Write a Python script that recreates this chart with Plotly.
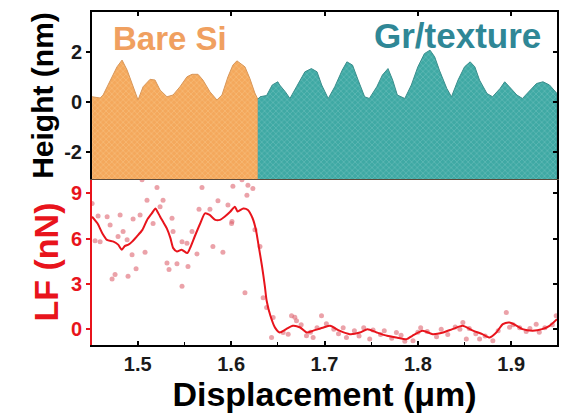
import plotly.graph_objects as go

# ---------------- data ----------------
si_x = [1.4511, 1.4597, 1.4629, 1.4704, 1.4778, 1.4832, 1.4886, 1.4939, 1.5003, 1.5057,
        1.5132, 1.5185, 1.5239, 1.5313, 1.5378, 1.5452, 1.5527, 1.5581, 1.5645, 1.5698,
        1.5773, 1.5848, 1.5902, 1.5966, 1.6019, 1.6062, 1.6148, 1.6201, 1.6254, 1.6286]
si_h = [0.20, 0.15, 0.27, 0.87, 1.40, 1.67, 1.27, 0.73, 0.07, 0.60,
        0.90, 0.87, 0.47, 0.20, 0.27, 0.60, 1.00, 1.10, 1.10, 0.87,
        0.40, 0.07, 0.27, 1.00, 1.47, 1.64, 1.40, 0.93, 0.35, 0.10]

gr_x = [1.6286, 1.631, 1.638, 1.644, 1.650, 1.652, 1.658, 1.663, 1.670, 1.679,
        1.686, 1.692, 1.697, 1.704, 1.711, 1.719, 1.724, 1.730, 1.736, 1.743,
        1.748, 1.756, 1.762, 1.768, 1.773, 1.778, 1.786, 1.793, 1.800, 1.807,
        1.813, 1.818, 1.823, 1.831, 1.836, 1.843, 1.850, 1.856, 1.861, 1.866,
        1.874, 1.880, 1.888, 1.893, 1.898, 1.906, 1.912, 1.920, 1.927, 1.934,
        1.941, 1.949]
gr_h = [0.10, 0.20, 0.25, 0.67, 0.80, 0.67, 0.40, 0.13, 0.60, 1.20,
        1.33, 1.20, 0.67, 0.13, 0.60, 1.27, 1.60, 1.47, 0.87, 0.20,
        0.13, 0.60, 1.07, 1.33, 0.87, 0.27, 0.13, 0.67, 1.40, 1.93,
        2.07, 1.80, 1.27, 0.53, 0.20, 0.87, 1.40, 1.60, 1.40, 0.87,
        0.33, 0.20, 0.53, 0.80, 0.60, 0.27, 0.13, 0.47, 0.73, 0.80,
        0.67, 0.33]

lf_fit_x = [1.451, 1.457, 1.462, 1.467, 1.474, 1.479, 1.483, 1.486, 1.490, 1.494,
            1.499, 1.505, 1.510, 1.515, 1.519, 1.521, 1.524, 1.527, 1.531, 1.535,
            1.538, 1.542, 1.547, 1.553, 1.556, 1.561, 1.567, 1.572, 1.577, 1.583,
            1.588, 1.593, 1.599, 1.604, 1.607, 1.613, 1.618, 1.623, 1.6265, 1.629,
            1.633, 1.636, 1.638, 1.642, 1.647, 1.652, 1.659, 1.666, 1.674, 1.681,
            1.688, 1.699, 1.706, 1.716, 1.727, 1.738, 1.746, 1.756, 1.767, 1.777,
            1.788, 1.794, 1.805, 1.816, 1.827, 1.837, 1.848, 1.859, 1.869, 1.877,
            1.884, 1.891, 1.898, 1.906, 1.912, 1.923, 1.933, 1.941, 1.949]
lf_fit_y = [7.45, 7.00, 6.36, 5.92, 5.80, 5.60, 5.26, 5.50, 5.60, 5.80,
            6.14, 6.58, 7.24, 7.67, 8.00, 7.80, 7.45, 7.13, 6.69, 6.03,
            5.37, 5.15, 5.26, 5.04, 5.37, 6.14, 7.02, 7.67, 7.57, 7.24,
            7.24, 7.45, 7.78, 8.11, 7.80, 8.00, 7.90, 7.35, 6.60, 5.70,
            4.20, 2.90, 1.90, 0.90, 0.10, -0.22, 0.00, 0.22, 0.11, -0.22,
            -0.10, 0.11, 0.22, -0.10, -0.33, -0.22, 0.00, -0.22, -0.44, -0.55,
            -0.66, -0.44, -0.10, -0.33, -0.22, 0.00, 0.22, -0.10, -0.33, -0.55,
            -0.22, 0.33, 0.44, 0.22, 0.00, -0.10, 0.00, 0.22, 0.66]

lf_raw_x = [1.5206, 1.5688, 1.6019, 1.6180, 1.6233, 1.6169, 1.4511, 1.5099, 1.5271, 1.5859,
            1.5966, 1.4575, 1.4672, 1.4811, 1.4950, 1.5025, 1.5239, 1.5164, 1.5367, 1.5656,
            1.5773, 1.6009, 1.4704, 1.4843, 1.4789, 1.4543, 1.4597, 1.5378, 1.5474, 1.5527,
            1.5581, 1.5805, 1.4886, 1.5078, 1.4939, 1.5634, 1.5912, 1.5313, 1.5420, 1.5335,
            1.5538, 1.4982, 1.4757, 1.4725, 1.4896, 1.5474, 1.6148, 1.6005, 1.6255, 1.6309,
            1.6343, 1.6380, 1.6450, 1.6433, 1.5046, 1.6116,
            1.6557, 1.6611, 1.6647, 1.6682, 1.6700, 1.6968, 1.6807, 1.6878, 1.7235, 1.7484,
            1.7770, 1.7948, 1.8482, 1.8519, 1.8661, 1.8803, 1.8947, 1.8982, 1.9267, 1.9481,
            1.675, 1.685, 1.692, 1.702, 1.710, 1.715, 1.720, 1.732, 1.737, 1.742,
            1.752, 1.760, 1.764, 1.772, 1.782, 1.786, 1.800, 1.803, 1.810, 1.820,
            1.825, 1.832, 1.840, 1.845, 1.855, 1.862, 1.872, 1.886, 1.902, 1.909,
            1.916, 1.920, 1.930, 1.936, 1.944]
lf_raw_y = [9.39, 9.39, 9.47, 9.54, 9.32, 8.88, 8.33, 8.55, 8.55, 8.51,
            8.22, 7.50, 7.45, 7.57, 7.30, 7.57, 8.11, 7.00, 7.35, 7.94,
            7.94, 7.13, 6.90, 6.47, 6.14, 5.86, 5.80, 6.47, 5.80, 5.70,
            6.47, 5.48, 5.92, 5.09, 4.93, 4.98, 5.09, 4.38, 4.34, 3.95,
            4.16, 4.01, 3.62, 3.33, 3.50, 2.85, 2.41, 7.00, 6.58, 5.48,
            2.08, 1.43, 0.77, -0.55, 9.90, 9.90,
            -0.22, -0.33, 0.88, 0.79, 0.55, 0.88, -0.44, -0.55, -0.55, -0.66,
            -0.22, -0.77, 0.44, -0.66, -0.66, -0.77, 1.10, 0.13, 0.33, 0.88,
            0.30, -0.20, 0.10, 0.35, 0.00, -0.30, 0.10, -0.10, -0.45, 0.10,
            -0.05, -0.35, -0.10, -0.60, -0.40, -0.80, -0.20, 0.10, -0.15, -0.50,
            0.00, -0.35, 0.15, 0.00, 0.05, -0.30, -0.45, -0.10, 0.30, 0.10,
            -0.15, 0.05, -0.20, 0.10, 0.30]

x_ticks = [1.5, 1.6, 1.7, 1.8, 1.9]
h_ticks = [-2, 0, 2]
lf_ticks = [0, 3, 6, 9]

# ---------------- figure ----------------
X_RANGE = [1.451, 1.949]
H_RANGE = [-3.1, 3.6]
LF_RANGE = [-1.05, 9.95]
H_BASE = H_RANGE[0] - 1
FONT = "Liberation Sans, Arial, sans-serif"

fig = go.Figure()

orange = "#F4A85C"
teal = "#3FA9A4"

def filled(xs, ys, bg, fg, line):
    px = list(xs) + [xs[-1], xs[0]]
    py = list(ys) + [H_BASE, H_BASE]
    return go.Scatter(x=px, y=py, xaxis="x2", yaxis="y2", mode="lines",
                      fill="toself", fillcolor=bg,
                      fillpattern=dict(shape="x", size=4, solidity=0.25,
                                       fgcolor=fg, bgcolor=bg),
                      line=dict(color=line, width=1), hoverinfo="skip",
                      showlegend=False)

fig.add_trace(filled(si_x, si_h, orange, "#FCD9A8", "#D8975A"))
fig.add_trace(filled(gr_x, gr_h, teal, "#9DD6D2", "#3A8E8C"))

fig.add_trace(go.Scatter(x=lf_raw_x, y=lf_raw_y, mode="markers",
                         marker=dict(size=5, color="rgba(222,100,112,0.6)"),
                         showlegend=False, xaxis="x", yaxis="y"))
fig.add_trace(go.Scatter(x=lf_fit_x, y=lf_fit_y, mode="lines",
                         line=dict(color="#E8141C", width=2, shape="spline", smoothing=0.6),
                         showlegend=False, xaxis="x", yaxis="y"))

SPLIT = 0.4985
tickfont = dict(family=FONT, size=20, color="#1a1a1a")

fig.update_layout(
    width=570, height=418,
    margin=dict(l=92, r=13, t=12, b=73),
    paper_bgcolor="white", plot_bgcolor="white",
    font=dict(family=FONT),
    xaxis=dict(domain=[0, 1], anchor="y", range=X_RANGE, tickvals=x_ticks,
               ticktext=[f"<b>{v:.1f}</b>" for v in x_ticks],
               ticks="inside", ticklen=4, tickwidth=2, tickcolor="black",
               showline=True, linecolor="black", linewidth=2, mirror=False,
               showgrid=False, zeroline=False, tickfont=tickfont,
               title=dict(text="<b>Displacement (μm)</b>",
                          font=dict(size=34, color="black"), standoff=2),
               minor=dict(ticks="inside", ticklen=3, tickwidth=1, tickcolor="black", dtick=0.05)),
    xaxis2=dict(domain=[0, 1], anchor="y2", range=X_RANGE, matches="x",
                tickvals=x_ticks, showticklabels=False,
                ticks="", showline=True, linecolor="#5a4a3a", linewidth=1, mirror=False,
                showgrid=False, zeroline=False),
    xaxis3=dict(domain=[0, 1], anchor="y2", overlaying="x2", side="top", range=X_RANGE,
                tickvals=x_ticks, showticklabels=False,
                ticks="inside", ticklen=4, tickwidth=2, tickcolor="black",
                showline=True, linecolor="black", linewidth=2,
                showgrid=False, zeroline=False),
    yaxis=dict(domain=[0, SPLIT], anchor="x", range=LF_RANGE, tickvals=lf_ticks,
               ticktext=[f"<b>{v}</b>" for v in lf_ticks],
               ticks="outside", ticklen=4, tickwidth=2, tickcolor="#E8141C",
               showline=True, linecolor="#E8141C", linewidth=2,
               showgrid=False, zeroline=False,
               tickfont=dict(family=FONT, size=20, color="#E8141C"),
               title=dict(text="<b>LF (nN)</b>", font=dict(size=34, color="#E8141C"), standoff=2)),
    yaxis3=dict(domain=[0, SPLIT], anchor="x", overlaying="y", side="right", range=LF_RANGE,
                tickvals=lf_ticks, showticklabels=False,
                ticks="inside", ticklen=4, tickwidth=2, tickcolor="black",
                showline=True, linecolor="black", linewidth=2,
                showgrid=False, zeroline=False),
    yaxis2=dict(domain=[SPLIT, 1], anchor="x2", range=H_RANGE, tickvals=h_ticks,
                ticktext=[f"<b>{v}</b>" for v in h_ticks],
                ticks="outside", ticklen=4, tickwidth=2, tickcolor="black",
                showline=True, linecolor="black", linewidth=2,
                showgrid=False, zeroline=False, tickfont=tickfont,
                title=dict(text="<b>Height (nm)</b>", font=dict(size=30, color="black"), standoff=2)),
    yaxis4=dict(domain=[SPLIT, 1], anchor="x2", overlaying="y2", side="right", range=H_RANGE,
                tickvals=h_ticks, showticklabels=False,
                ticks="inside", ticklen=4, tickwidth=2, tickcolor="black",
                showline=True, linecolor="black", linewidth=2,
                showgrid=False, zeroline=False),
)

# invisible traces to activate the mirror axes
fig.add_trace(go.Scatter(x=[X_RANGE[0]], y=[0], xaxis="x3", yaxis="y4", mode="markers",
                         marker=dict(opacity=0), showlegend=False, hoverinfo="skip"))
fig.add_trace(go.Scatter(x=[X_RANGE[0]], y=[0], xaxis="x", yaxis="y3", mode="markers",
                         marker=dict(opacity=0), showlegend=False, hoverinfo="skip"))

fig.add_annotation(text="<b>Bare Si</b>", xref="x2", yref="y2", x=1.534, y=2.55,
                   showarrow=False, font=dict(size=33, color="#F0A060"))
fig.add_annotation(text="<b>Gr/texture</b>", xref="x2", yref="y2", x=1.842, y=2.65,
                   showarrow=False, font=dict(size=35, color="#2F8796"))

fig.write_html("out.html")
